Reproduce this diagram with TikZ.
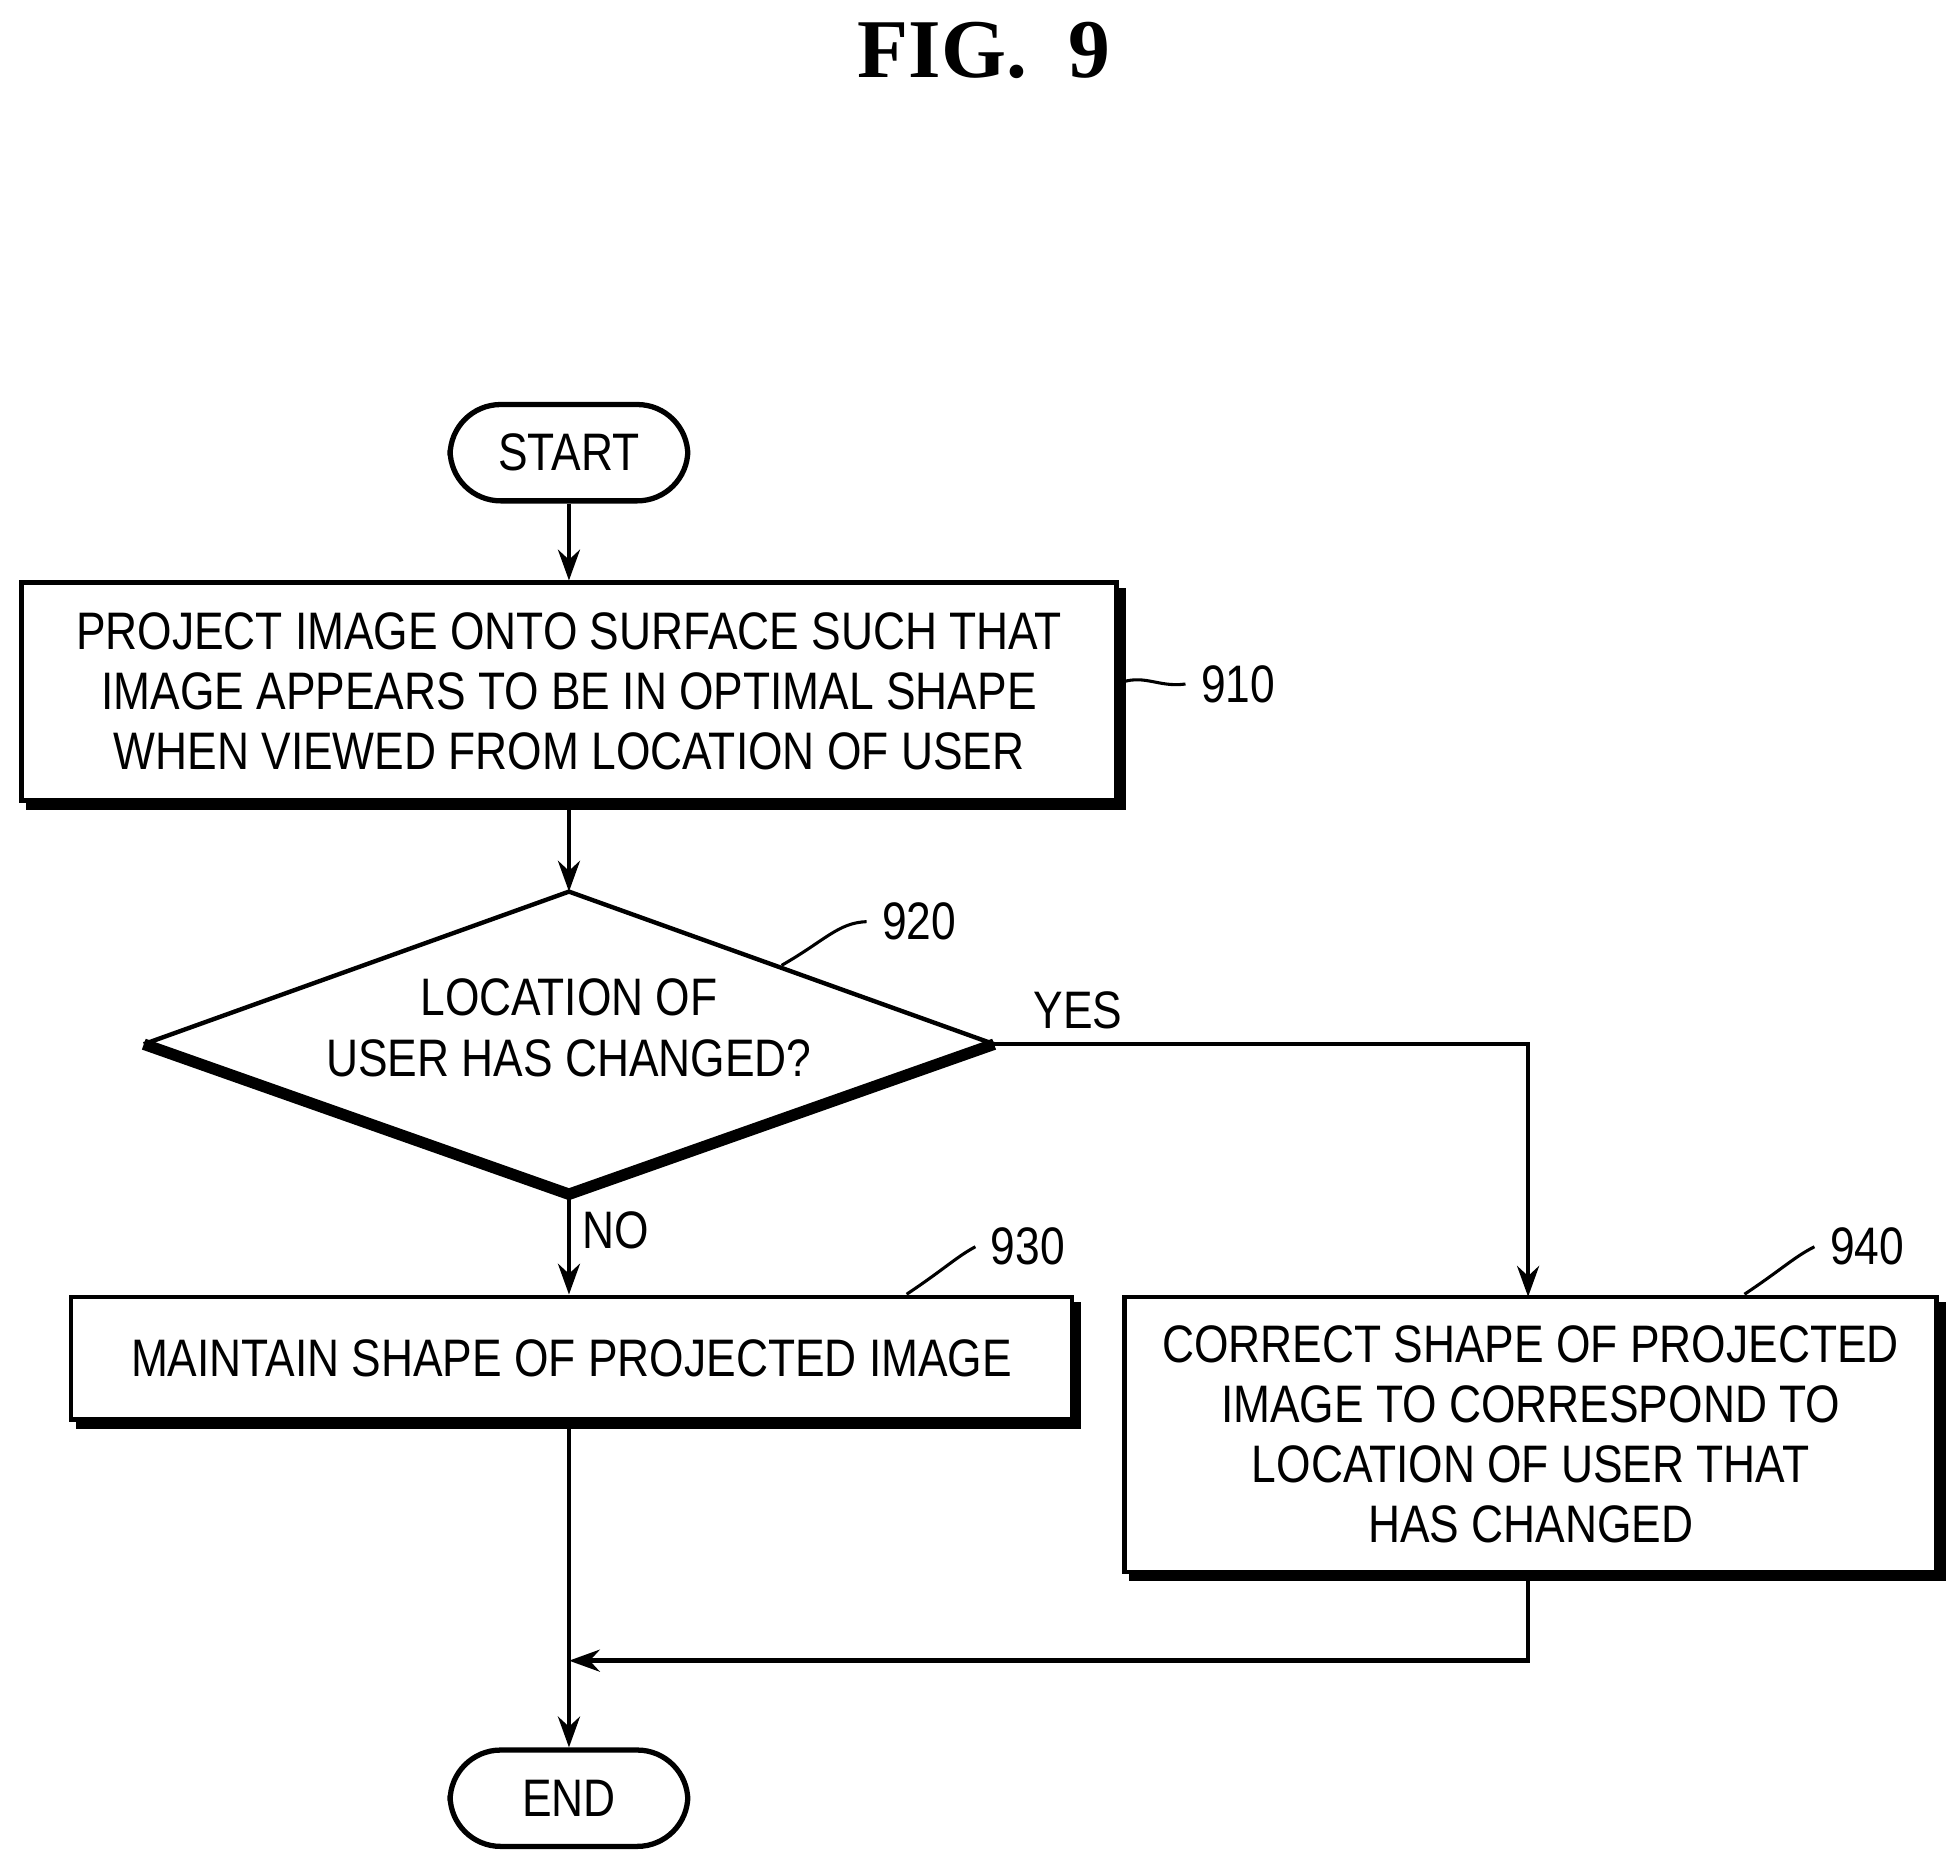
\documentclass[tikz,border=0pt]{standalone}
\usepackage{fontspec}
\setmainfont{Liberation Sans}[FakeStretch=0.84]
\newfontfamily\titlefont{Liberation Serif}
\usetikzlibrary{shapes.geometric,arrows.meta,shadows}
\begin{document}
\begin{tikzpicture}[x=0.01cm,y=-0.01cm,
  txt/.style={font=\fontsize{12}{13.7}\selectfont,align=center},
  box/.style={draw,line width=1pt,fill=white,txt,copy shadow={shadow xshift=1.6pt,shadow yshift=-1.6pt,fill=black,draw=black}},
  pill/.style={draw,line width=1.2pt,rounded corners=11.5pt,txt,minimum width=1.9cm,minimum height=0.77cm},
  arr/.style={line width=1pt,-{Stealth[length=7pt,width=5pt]}},
  ln/.style={line width=1pt},
  lead/.style={line width=0.7pt},
  lab/.style={font=\fontsize{12}{15}\selectfont}]
\useasboundingbox (0,0) rectangle (1561,1490);
\node[font=\titlefont\bfseries\fontsize{19}{22}\selectfont] (title) at (787,40) {FIG.\ \ 9};
\node[pill] (start) at (455,362) {START};
\node[box,minimum width=8.75cm,minimum height=1.74cm] (b910) at (455,553)
  {PROJECT IMAGE ONTO SURFACE SUCH THAT\\IMAGE APPEARS TO BE IN OPTIMAL SHAPE\\WHEN VIEWED FROM LOCATION OF USER};
% decision 920
\coordinate (dT) at (455,713);
\coordinate (dR) at (795,835);
\coordinate (dB) at (455,955);
\coordinate (dL) at (115,835);
\draw[line width=1pt] (dL) -- (dT) -- (dR);
\draw[line width=2.6pt,line join=miter] (dR) -- (dB) -- (dL);
\node[txt] (d920) at (455,822) {LOCATION OF\\USER HAS CHANGED?};
\node[box,minimum width=8.0cm,minimum height=0.98cm] (b930) at (457,1086) {MAINTAIN SHAPE OF PROJECTED IMAGE};
\node[box,minimum width=6.49cm,minimum height=2.2cm] (b940) at (1224,1147)
  {CORRECT SHAPE OF PROJECTED\\IMAGE TO CORRESPOND TO\\LOCATION OF USER THAT\\HAS CHANGED};
\node[pill] (end) at (455,1438) {END};
\draw[arr] (start) -- (b910);
\draw[arr] (b910.south -| dT) -- (dT);
\draw[arr] (dB) -- (b930.north -| dB);
\coordinate (c940) at (1222,1037);
\draw[arr] (dR) -| (c940);
\coordinate (m) at (455,1328);
\draw[arr] (1222,1257) |- (m);
\draw[arr] (b930.south -| end.north) -- (end.north);
\node[lab] (yes) at (862,808) {YES};
\node[lab] (no) at (492,984) {NO};
\node[lab] (l910) at (990,547) {910};
\node[lab] (l920) at (735,737) {920};
\node[lab] (l930) at (822,997) {930};
\node[lab] (l940) at (1493,997) {940};
\draw[lead] (893,547) .. controls (915,538) and (925,550) .. (l910.west);
\draw[lead] (625,772) .. controls (660,752) and (670,738) .. (l920.west);
\draw[lead] (725,1035) .. controls (755,1015) and (765,1005) .. (l930.west);
\draw[lead] (1395,1035) .. controls (1425,1015) and (1435,1005) .. (l940.west);
\end{tikzpicture}
\end{document}
